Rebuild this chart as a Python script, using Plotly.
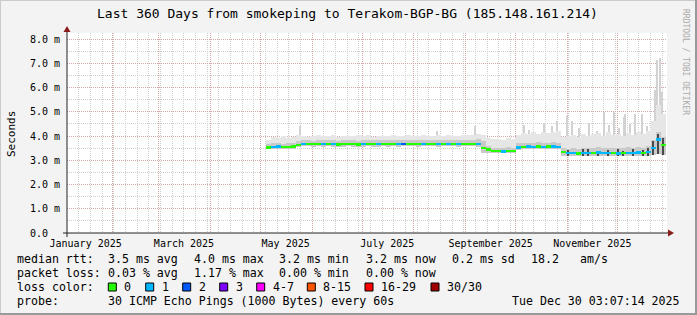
import pandas as pd
import plotly.graph_objects as go

# ---------------- data ----------------
title_text = "Last 360 Days from smokeping to Terakom-BGP-BG (185.148.161.214)"
range_start = "2025-01-04 19:40"
range_end = "2025-12-30 19:40"

bin_first = "2025-05-04"
bin_days = 3

median_ms = [3.52, 3.55, 3.56, 3.55, 3.55, 3.56,
             3.64, 3.66, 3.67, 3.66, 3.67, 3.66, 3.67, 3.66, 3.65, 3.66, 3.67, 3.66, 3.65,
             3.66, 3.67, 3.66, 3.66, 3.67, 3.66, 3.67, 3.66, 3.67, 3.68, 3.67, 3.66, 3.67,
             3.68, 3.67, 3.66, 3.67, 3.68, 3.67, 3.66, 3.67, 3.68, 3.67, 3.68,
             3.50,
             3.44, 3.39, 3.38, 3.37, 3.38, 3.38,
             3.53, 3.55, 3.56, 3.55, 3.56, 3.55, 3.56, 3.56, 3.55,
             3.33, 3.29, 3.30, 3.28, 3.31, 3.29, 3.30, 3.32, 3.29, 3.30, 3.31, 3.28, 3.30,
             3.31, 3.29, 3.32, 3.30, 3.33, 3.50, 3.85, 3.62]

loss_bucket = [0, 1, 1, 0, 0, 0,
               0, 1, 0, 0, 0, 1, 0, 1, 0, 0, 0, 0, 0, 1, 0, 0, 1, 0, 0, 0, 1, 2, 0, 0, 0,
               1, 0, 0, 1, 0, 1, 0, 1, 0, 0, 0, 1,
               0,
               0, 0, 0, 1, 0, 0,
               1, 0, 1, 1, 0, 1, 0, 1, 1,
               0, 1, 1, 0, 1, 1, 0, 1, 1, 1, 0, 1, 0, 1, 1, 1, 0, 1, 1, 1, 0]

smoke_low = [3.45, 3.46, 3.47, 3.46, 3.46, 3.47,
             3.55, 3.57, 3.57, 3.56, 3.57, 3.56, 3.57, 3.56, 3.55, 3.56, 3.57, 3.56, 3.55,
             3.56, 3.57, 3.56, 3.56, 3.57, 3.56, 3.57, 3.56, 3.57, 3.58, 3.57, 3.56, 3.57,
             3.58, 3.57, 3.56, 3.57, 3.58, 3.57, 3.56, 3.57, 3.58, 3.57, 3.56,
             3.32,
             3.31, 3.30, 3.30, 3.29, 3.30, 3.30,
             3.43, 3.45, 3.46, 3.45, 3.46, 3.45, 3.46, 3.46, 3.45,
             3.18, 3.17, 3.18, 3.16, 3.18, 3.17, 3.18, 3.19, 3.17, 3.18, 3.18, 3.16, 3.17,
             3.18, 3.17, 3.19, 3.17, 3.19, 3.22, 3.25, 3.22]

smoke_dense = [3.66, 3.70, 3.71, 3.69, 3.70, 3.71,
               3.80, 3.83, 3.82, 3.81, 3.83, 3.82, 3.84, 3.82, 3.81, 3.82, 3.83, 3.82, 3.81,
               3.82, 3.84, 3.82, 3.82, 3.83, 3.82, 3.84, 3.82, 3.83, 3.84, 3.83, 3.82, 3.83,
               3.84, 3.83, 3.82, 3.83, 3.85, 3.83, 3.82, 3.84, 3.85, 3.83, 3.86,
               3.80,
               3.58, 3.52, 3.51, 3.52, 3.53, 3.52,
               3.70, 3.72, 3.73, 3.72, 3.74, 3.72, 3.73, 3.74, 3.72,
               3.52, 3.48, 3.50, 3.47, 3.52, 3.50, 3.49, 3.53, 3.50, 3.51, 3.52, 3.49, 3.51,
               3.53, 3.50, 3.54, 3.52, 3.60, 3.85, 4.15, 3.95]

smoke_high = [3.85, 3.95, 3.92, 4.02, 3.90, 3.96,
              4.05, 4.02, 3.98, 4.00, 4.03, 3.99, 4.01, 4.04, 3.98, 4.00, 4.02, 3.99, 4.03,
              4.00, 4.05, 3.98, 4.01, 4.02, 3.99, 4.04, 4.00, 4.02, 4.03, 4.00, 4.02, 4.05,
              4.01, 3.99, 4.03, 4.02, 4.06, 4.00, 4.02, 4.04, 4.03, 4.05, 4.08,
              4.05,
              3.92, 3.86, 3.88, 3.84, 3.90, 3.87,
              4.05, 4.12, 4.08, 4.15, 4.10, 4.18, 4.12, 4.15, 4.20,
              3.95, 4.00, 4.05, 3.98, 4.10, 4.02, 4.08, 4.12, 4.00, 4.15, 4.05, 4.10, 4.02,
              4.12, 4.06, 4.15, 4.08, 4.20, 4.60, 5.30, 4.90]

smoke_core = [None] * 59 + [None, 3.42, None, None, 3.45, 3.48, None, 3.40, None, 3.44,
                            None, 3.46, 3.40, None, 3.45, None, 3.42, 3.50, 3.80, 4.10, 3.90]

spike_dates = ["2025-05-25", "2025-08-15", "2025-09-07", "2025-10-06", "2025-10-09",
               "2025-10-18", "2025-10-23", "2025-10-26", "2025-11-01", "2025-11-04",
               "2025-11-08", "2025-11-14", "2025-11-17", "2025-11-19", "2025-11-23",
               "2025-11-26", "2025-11-29", "2025-12-02", "2025-12-05", "2025-12-06",
               "2025-12-09", "2025-12-12", "2025-12-16", "2025-12-19", "2025-12-24",
               "2025-12-25", "2025-12-27", "2025-12-28"]
spike_low = [3.80, 3.80, 3.80, 3.70, 3.70, 3.70, 3.70, 3.70, 3.50, 3.50,
             3.50, 3.50, 3.50, 3.50, 3.50, 3.50, 3.50, 3.50, 3.50, 3.50,
             3.50, 3.50, 3.50, 3.50, 3.60, 3.80, 3.80, 3.60]
spike_top = [4.40, 4.19, 4.40, 4.47, 4.26, 4.55, 4.40, 4.60, 4.81, 4.60,
             4.33, 4.54, 4.05, 4.20, 5.00, 4.45, 5.00, 4.33, 4.80, 4.90,
             4.50, 4.90, 4.90, 4.40, 5.90, 7.15, 7.20, 5.80]

y_ticks = [0, 1, 2, 3, 4, 5, 6, 7, 8]
y_tick_text = ["0.0\u00a0\u00a0", "1.0 m", "2.0 m", "3.0 m", "4.0 m", "5.0 m", "6.0 m", "7.0 m", "8.0 m"]
x_label_dates = ["2025-01-16", "2025-03-16", "2025-05-16", "2025-07-16", "2025-09-16", "2025-11-16"]
x_label_text = ["January 2025", "March 2025", "May 2025", "July 2025", "September 2025", "November 2025"]

loss_labels = ["0", "1", "2", "3", "4-7", "8-15", "16-29", "30/30"]
loss_colors = ["#26ff00", "#00b8ff", "#0059ff", "#7e00ff", "#ff00ff", "#ff5500", "#ff0000", "#a10000"]

rtt_row = [("median rtt:", 16), ("3.5 ms avg", 107.3), ("4.0 ms max", 192.7), ("3.2 ms min", 278.3),
           ("3.2 ms now", 365), ("0.2 ms sd", 451), ("18.2", 530), ("am/s", 579.3)]
loss_row = [("packet loss:", 16), ("0.03 % avg", 107.3), ("1.17 % max", 192.7),
            ("0.00 % min", 278.3), ("0.00 % now", 365)]
swatch_x = [108.3, 145.7, 182.7, 219.7, 256.7, 307.3, 365, 431]
probe_text = "30 ICMP Echo Pings (1000 Bytes) every 60s"
stamp_text = "Tue Dec 30 03:07:14 2025"

# ---------------- geometry helpers (pixel -> paper) ----------------
L, T, W, H = 67, 33, 600, 200
def px_x(px):
    return (px - L) / W
def px_y(py):
    return (T + H - py) / H

DAY = 86400000
bin_times = pd.date_range(bin_first, periods=len(median_ms), freq=f"{bin_days}D") + pd.Timedelta(hours=12 * bin_days)

fig = go.Figure()

# spikes (behind smoke)
fig.add_trace(go.Bar(x=spike_dates, y=[t - b for t, b in zip(spike_top, spike_low)], base=spike_low,
                     width=0.8 * DAY, marker=dict(color="#d2d2d2", line=dict(width=0)), hoverinfo="skip"))
# light smoke
fig.add_trace(go.Bar(x=bin_times, y=[h - l for h, l in zip(smoke_high, smoke_low)], base=smoke_low,
                     width=bin_days * DAY, marker=dict(color="#e6e6e6", line=dict(width=0)), hoverinfo="skip"))
# dense smoke
fig.add_trace(go.Bar(x=bin_times, y=[d - l for d, l in zip(smoke_dense, smoke_low)], base=smoke_low,
                     width=bin_days * DAY, marker=dict(color="#c9c9c9", line=dict(width=0)), hoverinfo="skip"))
# dark core
core_base = [l if c is not None else None for c, l in zip(smoke_core, smoke_low)]
core_h = [c - l if c is not None else None for c, l in zip(smoke_core, smoke_low)]
fig.add_trace(go.Bar(x=bin_times, y=core_h, base=core_base, width=bin_days * DAY * 0.5,
                     marker=dict(color="#4a4a4a", line=dict(width=0)), hoverinfo="skip"))
# median coloured by loss
band = 0.05
fig.add_trace(go.Bar(x=bin_times, y=[2 * band] * len(median_ms), base=[m - band for m in median_ms],
                     width=bin_days * DAY,
                     marker=dict(color=[loss_colors[k] for k in loss_bucket], line=dict(width=0)),
                     hoverinfo="skip"))
# invisible trace carrying the label axis
fig.add_trace(go.Scatter(x=x_label_dates, y=[0] * len(x_label_dates), xaxis="x2", mode="markers",
                         marker=dict(opacity=0), hoverinfo="skip"))

mono = "DejaVu Sans Mono"
fig.update_layout(
    width=697, height=315, margin=dict(l=L, r=697 - L - W, t=T, b=315 - T - H),
    paper_bgcolor="#F3F3F3", plot_bgcolor="#FFFFFF",
    barmode="overlay", bargap=0, showlegend=False,
    font=dict(family=mono, size=10, color="#000000"),
    xaxis=dict(type="date", range=[range_start, range_end], dtick="M1", tick0="2025-01-01",
               showgrid=True, gridcolor="#D6A8A8", griddash="1px,1px", gridwidth=1,
               minor=dict(dtick=7 * DAY, tick0="2025-01-05", showgrid=True, gridcolor="#CFCFCF",
                          griddash="1px,1px", gridwidth=1),
               showticklabels=False, ticks="", zeroline=False, showline=False, fixedrange=True),
    xaxis2=dict(type="date", overlaying="x", matches="x", side="bottom", anchor="y",
                tickvals=x_label_dates, ticktext=x_label_text, showgrid=False, ticks="",
                ticklabelstandoff=3,
                tickfont=dict(family=mono, size=10), zeroline=False, showline=False),
    yaxis=dict(range=[0, 8.25], tickvals=y_ticks, ticktext=y_tick_text,
               showgrid=True, gridcolor="#D6A8A8", griddash="1px,1px",
               minor=dict(dtick=0.5, showgrid=True, gridcolor="#CFCFCF", griddash="1px,1px"),
               ticks="", ticklabelstandoff=6,
               tickfont=dict(family=mono, size=10), zeroline=False, showline=False),
)

# axis lines + arrows
axis_col = "#222222"
arrow_col = "#8a1c1c"
shapes = [
    dict(type="line", xref="paper", yref="paper", x0=px_x(63), x1=px_x(669), y0=px_y(233), y1=px_y(233),
         line=dict(color=axis_col, width=1)),
    dict(type="line", xref="paper", yref="paper", x0=px_x(67), x1=px_x(67), y0=px_y(237), y1=px_y(29),
         line=dict(color=axis_col, width=1)),
    dict(type="path", xref="paper", yref="paper",
         path=f"M {px_x(668)} {px_y(229.5)} L {px_x(674)} {px_y(233)} L {px_x(668)} {px_y(236.5)} Z",
         fillcolor=arrow_col, line=dict(color=arrow_col, width=0)),
    dict(type="path", xref="paper", yref="paper",
         path=f"M {px_x(63.5)} {px_y(32)} L {px_x(67)} {px_y(26)} L {px_x(70.5)} {px_y(32)} Z",
         fillcolor=arrow_col, line=dict(color=arrow_col, width=0)),
    # outer frame
    dict(type="line", xref="paper", yref="paper", x0=px_x(0), x1=px_x(697), y0=px_y(0.5), y1=px_y(0.5),
         line=dict(color="#CBCBCB", width=1)),
    dict(type="line", xref="paper", yref="paper", x0=px_x(0.5), x1=px_x(0.5), y0=px_y(0), y1=px_y(315),
         line=dict(color="#CBCBCB", width=1)),
    dict(type="line", xref="paper", yref="paper", x0=px_x(0), x1=px_x(697), y0=px_y(314), y1=px_y(314),
         line=dict(color="#999999", width=2)),
    dict(type="line", xref="paper", yref="paper", x0=px_x(696), x1=px_x(696), y0=px_y(0), y1=px_y(315),
         line=dict(color="#999999", width=2)),
]

# loss colour swatches
sw_top, sw_bot = 283, 291
for sx, col in zip(swatch_x, loss_colors):
    shapes.append(dict(type="rect", xref="paper", yref="paper", x0=px_x(sx), x1=px_x(sx + 8),
                       y0=px_y(sw_bot), y1=px_y(sw_top), fillcolor=col, line=dict(color="#000000", width=1)))
fig.update_layout(shapes=shapes)

legend_font = dict(family=mono, size=11.6, color="#000000")
row_y = [259.3, 272.7, 287, 300.7]
ann = []
def add_text(txt, xpx, ypx, anchor="left", font=legend_font, angle=0):
    ann.append(dict(text=txt, x=px_x(xpx), y=px_y(ypx), xref="paper", yref="paper",
                    xanchor=anchor, yanchor="middle", showarrow=False, font=font,
                    borderpad=0, textangle=angle))

for txt, xp in rtt_row:
    add_text(txt, xp, row_y[0])
for txt, xp in loss_row:
    add_text(txt, xp, row_y[1])
add_text("loss color:", 16, row_y[2])
for sx, lab in zip(swatch_x, loss_labels):
    add_text(lab, sx + 15, row_y[2])
add_text("probe:", 16, row_y[3])
add_text(probe_text, 107.3, row_y[3])
add_text(stamp_text, 680.8, row_y[3], anchor="right")

# title
ann.append(dict(text=title_text, x=px_x(347), y=px_y(13.3), xref="paper", yref="paper",
                xanchor="center", yanchor="middle", showarrow=False,
                font=dict(family=mono, size=13, color="#000000")))
# y axis title
ann.append(dict(text="Seconds", x=px_x(11), y=px_y(134), xref="paper", yref="paper",
                xanchor="center", yanchor="middle", showarrow=False, textangle=-90,
                font=dict(family=mono, size=11, color="#000000")))
# watermark
ann.append(dict(text="RRDTOOL / TOBI OETIKER", x=px_x(686), y=px_y(62), xref="paper", yref="paper",
                xanchor="center", yanchor="middle", showarrow=False, textangle=90,
                font=dict(family=mono, size=8, color="#AAAAAA")))
fig.update_layout(annotations=ann)

fig.write_html("out.html")
